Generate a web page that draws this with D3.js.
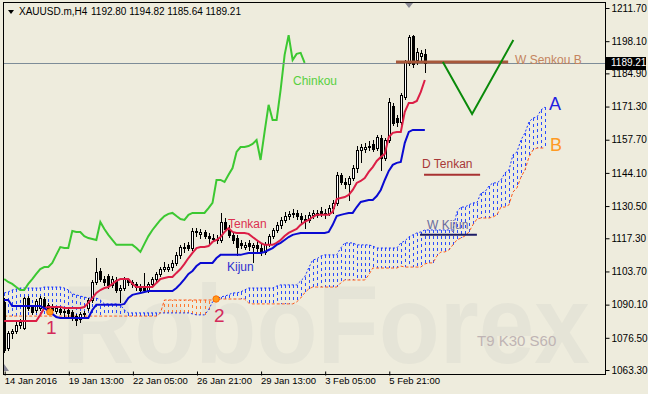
<!DOCTYPE html>
<html><head><meta charset="utf-8">
<script src="https://cdn.jsdelivr.net/npm/d3@7"></script>
<style>html,body{margin:0;padding:0;background:#eeecdd;overflow:hidden}</style>
</head><body><svg id="c" width="648" height="394"></svg>
<script>
// ---- data (H4 bars, index 0 = 14 Jan 2016 21:00) ----
const opens = [
1091.2,1072.3,1078.5,1079.3,1081.8,1080.5,1092.8,1089.1,1087.9,1088.7,
1092.4,1090.0,1089.5,1087.5,1088.3,1087.1,1087.9,1087.1,1085.4,1084.2,
1086.3,1088.7,1092.0,1099.4,1103.9,1100.6,1101.8,1098.2,1100.2,1096.1,
1096.9,1100.6,1099.4,1098.6,1097.3,1096.9,1096.1,1098.6,1100.6,1102.7,
1104.7,1104.7,1105.5,1107.2,1110.5,1113.7,1114.6,1113.3,1120.3,1119.1,
1119.9,1118.2,1117.4,1117.0,1116.6,1124.0,1121.1,1118.7,1117.4,1115.4,
1113.7,1115.4,1113.7,1114.6,1113.3,1111.7,1115.0,1118.2,1120.7,1122.8,
1124.8,1126.4,1127.3,1127.7,1126.4,1125.2,1124.8,1126.9,1126.9,1128.5,
1127.3,1127.7,1129.7,1131.8,1143.3,1140.4,1139.6,1142.0,1146.1,1153.5,
1153.9,1154.7,1156.0,1154.3,1158.4,1150.2,1157.6,1171.5,1166.6,1165.0,
1175.2,1189.2,1200.2,1190.4,1192.0,1192.80];
const highs = [
1092.8,1079.3,1080.1,1083.0,1084.2,1093.2,1093.6,1090.0,1092.4,1093.6,
1093.2,1090.8,1090.4,1089.5,1089.1,1088.3,1088.7,1087.9,1086.3,1087.1,
1087.5,1092.8,1100.2,1109.2,1105.1,1101.8,1102.7,1101.8,1101.4,1098.2,
1101.4,1101.0,1100.2,1099.4,1098.6,1103.1,1099.4,1101.4,1103.5,1105.5,
1107.6,1106.8,1108.4,1111.7,1114.6,1115.4,1115.8,1121.5,1121.5,1121.1,
1120.7,1119.5,1119.1,1118.7,1127.7,1125.6,1122.8,1119.9,1118.7,1116.6,
1115.8,1116.6,1115.4,1116.2,1115.0,1115.8,1119.1,1121.5,1124.0,1126.0,
1128.1,1128.5,1129.3,1128.9,1127.7,1126.9,1128.1,1128.9,1128.9,1130.1,
1129.3,1131.0,1133.0,1144.5,1144.1,1142.0,1142.8,1147.4,1155.1,1156.0,
1156.4,1157.2,1157.6,1159.7,1159.7,1158.4,1174.8,1172.8,1167.9,1176.9,
1190.4,1200.6,1200.6,1195.3,1194.5,1194.82];
const lows = [
1070.7,1071.5,1076.4,1078.5,1080.5,1080.1,1087.9,1086.3,1087.1,1087.9,
1088.7,1087.5,1086.7,1086.7,1086.3,1085.4,1085.4,1083.8,1081.8,1083.0,
1085.4,1087.9,1091.2,1098.6,1099.8,1098.2,1096.9,1097.3,1095.3,1091.2,
1096.1,1098.2,1097.3,1096.1,1094.9,1095.3,1095.3,1097.7,1099.8,1101.8,
1103.9,1103.9,1104.3,1106.4,1109.2,1111.7,1112.5,1112.5,1118.2,1117.4,
1117.4,1115.4,1116.2,1115.4,1115.8,1120.3,1117.8,1115.4,1110.5,1113.3,
1112.9,1112.5,1107.6,1112.1,1110.5,1110.9,1114.1,1117.4,1119.9,1121.5,
1124.0,1125.2,1126.0,1125.2,1123.2,1121.5,1124.0,1125.6,1126.0,1126.4,
1125.6,1126.9,1127.7,1131.0,1139.6,1137.9,1133.0,1141.2,1144.5,1148.6,
1152.7,1153.5,1153.1,1153.5,1145.3,1149.4,1156.8,1163.8,1163.3,1164.2,
1174.4,1188.4,1187.5,1188.8,1189.6,1185.64];
const closes = [
1071.5,1078.5,1079.3,1081.8,1083.0,1092.8,1088.7,1087.1,1091.6,1092.8,
1089.5,1088.3,1087.9,1088.7,1087.1,1087.5,1086.7,1084.6,1083.8,1086.3,
1086.7,1092.0,1099.4,1103.5,1100.6,1099.4,1098.2,1100.6,1096.1,1096.9,
1100.6,1099.4,1098.6,1097.3,1096.1,1096.1,1098.6,1100.6,1102.7,1104.7,
1105.5,1105.5,1107.2,1110.5,1113.7,1113.3,1113.3,1120.3,1119.9,1119.9,
1118.2,1117.4,1117.0,1116.6,1124.0,1121.1,1118.7,1116.6,1113.7,1114.6,
1114.6,1114.1,1114.6,1113.3,1111.7,1115.0,1118.2,1120.7,1122.8,1124.8,
1126.4,1127.3,1127.7,1126.4,1125.2,1124.8,1126.9,1127.7,1127.7,1127.7,
1127.7,1129.7,1131.8,1143.3,1140.4,1139.6,1142.0,1146.1,1153.5,1154.7,
1154.7,1155.1,1153.9,1158.8,1150.2,1157.6,1173.2,1164.6,1165.0,1176.1,
1189.6,1199.8,1188.8,1193.7,1193.3,1189.21];
const tenkan = [
1083.4,1083.4,1083.4,1083.4,1083.4,1083.4,1083.4,1083.4,1083.4,1085.9,
1088.7,1089.1,1089.1,1089.1,1089.1,1088.7,1088.7,1088.7,1088.7,1088.7,
1089.1,1090.8,1092.8,1094.9,1096.1,1096.9,1097.3,1098.6,1099.8,1100.6,
1100.6,1100.6,1098.6,1097.3,1097.3,1097.3,1097.3,1097.3,1099.0,1100.6,
1101.0,1101.4,1101.4,1103.1,1104.7,1106.8,1109.2,1111.3,1113.3,1113.7,
1113.7,1114.1,1115.8,1116.6,1117.8,1119.9,1121.5,1119.9,1119.5,1119.5,
1119.5,1119.1,1117.8,1116.6,1115.4,1114.6,1114.6,1114.6,1115.4,1116.6,
1118.2,1119.5,1120.3,1121.1,1122.8,1124.0,1124.8,1126.0,1126.9,1126.9,
1126.9,1126.9,1128.1,1133.4,1133.8,1134.2,1135.1,1137.1,1140.0,1140.8,
1142.0,1144.5,1146.5,1149.0,1150.6,1151.9,1158.8,1160.5,1160.9,1160.9,
1169.1,1172.8,1172.8,1173.6,1177.3,1182.2];
const kijun = [
1092.0,1092.0,1089.5,1089.5,1089.5,1089.5,1089.5,1089.5,1089.5,1089.5,
1088.7,1087.5,1086.3,1085.0,1084.6,1084.6,1084.6,1084.6,1084.6,1084.6,
1084.6,1084.6,1087.9,1090.0,1090.0,1090.0,1090.0,1090.0,1090.0,1090.0,
1090.4,1092.8,1094.1,1094.5,1094.9,1095.3,1095.7,1095.7,1095.7,1095.7,
1095.7,1095.7,1095.7,1096.9,1098.6,1100.6,1102.7,1103.9,1105.9,1107.2,
1107.2,1107.2,1107.2,1109.2,1110.5,1110.5,1110.5,1110.5,1110.5,1110.5,
1110.9,1111.3,1111.3,1111.3,1111.3,1111.7,1112.5,1113.3,1114.6,1115.4,
1116.6,1117.8,1118.7,1119.1,1119.5,1119.5,1119.5,1119.5,1119.5,1119.5,
1119.5,1119.9,1122.8,1126.4,1126.9,1127.3,1127.7,1127.7,1130.1,1132.2,
1132.6,1133.0,1133.0,1134.6,1137.1,1141.2,1144.9,1147.4,1148.2,1148.6,
1156.4,1160.9,1161.7,1161.7,1161.7,1161.7];
// Senkou spans, already shifted 30 bars forward (index = bar position on chart)
const senkouA = [
1094.9,1095.3,1096.1,1096.5,1096.9,1096.9,1096.9,1096.9,1096.9,1096.9,
1097.3,1097.3,1097.3,1097.3,1097.3,1096.9,1096.1,1094.5,1094.1,1093.6,
1093.2,1092.8,1092.8,1092.8,1092.0,1090.4,1090.4,1090.4,1090.4,1090.0,
1087.9,1086.7,1086.7,1086.7,1086.7,1086.7,1086.7,1086.7,1086.7,1086.7,
1086.7,1086.7,1086.7,1086.7,1086.7,1086.7,1086.7,1086.3,1085.9,1085.9,
1085.9,1087.9,1091.2,1092.4,1093.2,1093.6,1094.1,1094.9,1094.9,1095.3,
1096.1,1096.9,1096.9,1096.9,1096.9,1096.9,1096.9,1096.9,1097.7,1098.2,
1098.2,1098.2,1098.2,1098.2,1099.8,1101.4,1105.1,1108.4,1108.8,1110.0,
1110.5,1110.5,1110.5,1110.5,1113.3,1115.4,1115.4,1115.4,1114.6,1114.6,
1114.6,1114.6,1114.1,1113.3,1113.3,1113.3,1113.3,1113.3,1113.3,1115.4,
1116.2,1117.8,1118.7,1119.5,1119.9,1120.7,1120.7,1120.7,1120.7,1120.7,
1120.7,1120.7,1120.7,1128.1,1130.1,1130.1,1131.0,1131.8,1131.8,1135.9,
1136.3,1138.7,1140.0,1140.0,1141.2,1144.1,1145.3,1151.5,1152.7,1157.6,
1160.5,1165.0,1166.6,1167.0,1169.9,1171.1];
const senkouB = [
1085.4,1085.4,1085.4,1085.4,1085.4,1085.4,1085.4,1085.4,1085.4,1085.4,
1085.4,1085.4,1085.4,1085.4,1085.4,1085.4,1085.4,1085.4,1085.4,1085.4,
1085.4,1085.4,1085.4,1085.4,1085.4,1085.4,1085.4,1085.4,1085.4,1085.4,
1085.4,1085.4,1085.4,1085.4,1085.4,1085.4,1085.4,1085.4,1085.4,1086.7,
1092.0,1092.0,1092.0,1092.0,1092.0,1092.0,1092.0,1092.0,1092.0,1092.0,
1092.0,1092.0,1092.0,1092.0,1092.4,1092.4,1092.4,1092.4,1092.4,1092.4,
1092.4,1090.8,1090.4,1090.4,1090.4,1090.4,1090.4,1090.4,1090.4,1090.4,
1090.4,1090.4,1090.4,1091.2,1092.8,1094.9,1096.5,1097.3,1097.3,1097.3,
1097.3,1097.3,1097.3,1097.3,1099.0,1100.2,1100.2,1100.2,1100.2,1100.2,
1100.2,1102.3,1105.1,1105.1,1105.1,1105.1,1105.1,1105.1,1105.1,1105.9,
1105.5,1105.5,1105.5,1105.5,1105.5,1106.8,1107.2,1107.2,1110.0,1111.7,
1111.7,1112.5,1114.6,1116.6,1117.4,1118.2,1119.9,1122.8,1125.2,1125.6,
1125.6,1125.6,1126.0,1126.9,1130.1,1130.1,1131.0,1136.3,1137.9,1142.4,
1145.3,1150.6,1153.5,1154.3,1154.3,1154.3];
// Chinkou span, already shifted 30 bars back
const chinkou = [
1100.6,1099.4,1098.6,1097.3,1096.1,1096.1,1098.6,1100.6,1102.7,1104.7,
1105.5,1105.5,1107.2,1110.5,1113.7,1113.3,1113.3,1120.3,1119.9,1119.9,
1118.2,1117.4,1117.0,1116.6,1124.0,1121.1,1118.7,1116.6,1114.6,1114.6,
1114.6,1114.6,1114.6,1113.3,1111.7,1115.0,1118.2,1120.7,1122.8,1124.8,
1126.4,1127.3,1127.7,1126.4,1125.2,1124.8,1126.9,1127.7,1127.7,1127.7,
1127.7,1129.7,1131.8,1141.2,1141.2,1140.4,1143.3,1146.1,1152.7,1154.7,
1154.7,1155.1,1156.0,1157.6,1149.4,1160.9,1172.0,1165.8,1165.8,1178.1,
1192.5,1200.6,1190.4,1192.9,1193.3,1189.2];
const priceTicks = [1211.70,1198.10,1184.90,1171.30,1157.70,1144.10,1130.50,1117.30,1103.70,1090.10,1076.50,1063.30];
const dateTickBars = [0,16,32,48,64,80,96];
const dateLabels = ["14 Jan 2016","19 Jan 13:00","22 Jan 05:00","26 Jan 21:00","29 Jan 13:00","3 Feb 05:00","5 Feb 21:00"];
const lastPrice = 1189.21;
// annotations
const signalBars = [11.4, 52.9];
const signalPrices = [1087.1, 1092.4];
const signalNames = ["1","2"];
const levelNames = ["W Senkou B","D Tenkan","W Kijun"];
const levelPrices = [1189.6, 1143.3, 1118.7];
const levelFrom = [97.8, 104.8, 103.8];
const levelTo = [125.8, 118.8, 118.0];
const forecastBars = [109.5, 116.8, 127.1];
const forecastPrices = [1189.6, 1168.3, 1198.6];

// ---- drawing ----
const FONT = "'Liberation Sans', Arial, sans-serif";
const svg = d3.select('#c');
const x = d3.scaleLinear().domain([0,150]).range([4.2, 605.1]);
const y = d3.scaleLinear().domain([1063.3, 1211.7]).range([370, 8]);
const px = v => Math.round(x(v));

svg.append('rect').attr('width',648).attr('height',394).attr('fill','#eeecdd');
svg.append('text').attr('x',62).attr('y',363).attr('font-family',FONT).attr('font-weight','bold')
  .attr('font-size',112).attr('textLength',528).attr('lengthAdjust','spacingAndGlyphs')
  .attr('fill','#e5e4d7').text('RoboForex');

svg.append('defs').append('clipPath').attr('id','plot').append('rect')
  .attr('x',3).attr('y',3).attr('width',602).attr('height',371);
const g = svg.append('g').attr('clip-path','url(#plot)');

// cloud hatch
const cloudIdx = d3.range(senkouA.length);
g.append('g').attr('shape-rendering','crispEdges').selectAll('line').data(cloudIdx).join('line')
  .attr('x1', i => px(i)+0.5).attr('x2', i => px(i)+0.5)
  .attr('y1', i => Math.round(y(senkouA[i]))).attr('y2', i => Math.round(y(senkouB[i])))
  .attr('stroke', i => senkouA[i] >= senkouB[i] ? '#2a4cff' : '#ff7a30')
  .attr('stroke-width',1).attr('stroke-dasharray','3,3');

const lineGen = d3.line().x((d,i) => x(i)).y(d => y(d));
g.append('path').attr('d', lineGen(senkouA)).attr('fill','none')
  .attr('stroke','#1430ff').attr('stroke-width',1).attr('stroke-dasharray','2,2');
g.append('path').attr('d', lineGen(senkouB)).attr('fill','none')
  .attr('stroke','#ff5a1a').attr('stroke-width',1).attr('stroke-dasharray','3,2');

// chinkou
g.append('path').attr('d', lineGen(chinkou)).attr('fill','none')
  .attr('stroke','#3cc832').attr('stroke-width',2);

// last price line
g.append('line').attr('x1',3).attr('x2',605)
  .attr('y1', Math.round(y(lastPrice))+0.5).attr('y2', Math.round(y(lastPrice))+0.5)
  .attr('stroke','#7d8c98').attr('stroke-width',1);

// candles
const bars = d3.range(closes.length);
const cg = g.append('g').attr('shape-rendering','crispEdges');
cg.selectAll('line').data(bars).join('line')
  .attr('x1', i => px(i)+0.5).attr('x2', i => px(i)+0.5)
  .attr('y1', i => Math.round(y(highs[i]))).attr('y2', i => Math.round(y(lows[i]))+1)
  .attr('stroke','#000').attr('stroke-width',1);
cg.selectAll('rect').data(bars).join('rect')
  .attr('x', i => px(i)-0.5).attr('width',2)
  .attr('y', i => Math.round(y(Math.max(opens[i],closes[i])))+0.5)
  .attr('height', i => Math.max(0, Math.round(y(Math.min(opens[i],closes[i]))) - Math.round(y(Math.max(opens[i],closes[i])))))
  .attr('fill', i => closes[i] >= opens[i] ? '#ffffff' : '#000000')
  .attr('stroke','#000').attr('stroke-width',1);

// tenkan & kijun
g.append('path').attr('d', lineGen(tenkan)).attr('fill','none')
  .attr('stroke','#dc1e46').attr('stroke-width',2);
g.append('path').attr('d', lineGen(kijun)).attr('fill','none')
  .attr('stroke','#0a0ad2').attr('stroke-width',2);

// level lines
const levelColors = ['#a8583a','#a83232','#1c1c66'];
const levelWidths = [3,2,2];
g.selectAll('line.lvl').data(levelNames).join('line').attr('class','lvl')
  .attr('x1', (d,i) => x(levelFrom[i])).attr('x2', (d,i) => x(levelTo[i]))
  .attr('y1', (d,i) => y(levelPrices[i])).attr('y2', (d,i) => y(levelPrices[i]))
  .attr('stroke', (d,i) => levelColors[i]).attr('stroke-width', (d,i) => levelWidths[i]);

// forecast V
g.append('path').attr('d', d3.line().x(d => x(d)).y((d,i) => y(forecastPrices[i]))(forecastBars))
  .attr('fill','none').attr('stroke','#0a8a0a').attr('stroke-width',2);

// signal dots
g.selectAll('circle.sig').data(signalBars).join('circle').attr('class','sig')
  .attr('cx', d => x(d)).attr('cy', (d,i) => y(signalPrices[i])).attr('r',3.2)
  .attr('fill','#ff9a1a').attr('stroke','#ff6a00').attr('stroke-width',1);

// text labels
const T = (t, xx, yy, size, color) => g.append('text').attr('x',xx).attr('y',yy)
  .attr('font-family',FONT).attr('font-size',size).attr('fill',color).text(t);
T('Chinkou', 293, 85, 12, '#58d040');
T('Tenkan', 228, 228, 12, '#dc3050');
T('Kijun', 227, 271, 12, '#3030d0');
T(levelNames[1], 422, 168, 12, '#a83838');
T(levelNames[2], 427, 229, 12, '#6a6a9c');
T(levelNames[0], 515, 64, 12, '#c4845e');
T('A', 549, 110, 18, '#2222e0');
T('B', 550, 151, 18, '#ff9a22');
T(signalNames[0], 46, 334, 19, '#d42a5a');
T(signalNames[1], 214, 322, 19, '#d42a5a');
T('T9 K30 S60', 477, 346, 15, '#bfb4b4');

// small markers
svg.append('path').attr('d','M405,3 L413,3 L409,8 Z').attr('fill','#8a8a96');
svg.append('path').attr('d','M4,364 L4,371 L9,371 Z').attr('fill','#8a8a9a');

// frame
svg.append('rect').attr('x',3.5).attr('y',2.5).attr('width',602).attr('height',372)
  .attr('fill','none').attr('stroke','#000').attr('stroke-width',1);

// price axis
const ya = svg.append('g').attr('transform','translate(605.5,0)')
  .call(d3.axisRight(y).tickValues(priceTicks).tickSize(4).tickPadding(2).tickFormat(d3.format('.2f')));
ya.select('.domain').remove();
ya.selectAll('line').attr('stroke','#000');
ya.selectAll('text').attr('font-family',FONT).attr('font-size',10).attr('fill','#000');

// last price box
svg.append('rect').attr('x',606).attr('y',Math.round(y(lastPrice))-6).attr('width',40).attr('height',13).attr('fill','#000');
svg.append('text').attr('x',611).attr('y',y(lastPrice)).attr('dy','0.34em').attr('font-family',FONT)
  .attr('font-size',10).attr('fill','#fff').text(d3.format('.2f')(lastPrice));

// date axis
const xa = svg.append('g').attr('transform','translate(0,374.5)')
  .call(d3.axisBottom(x).tickValues(dateTickBars).tickSize(4).tickFormat((d,i) => dateLabels[i]));
xa.select('.domain').remove();
xa.selectAll('line').attr('stroke','#000').attr('transform','translate(0.5,-3)');
xa.selectAll('text').attr('font-family',FONT).attr('font-size',9.5).attr('fill','#000')
  .attr('text-anchor','start').attr('x',0).attr('y',3).attr('dy','0.71em');

// header
svg.append('path').attr('d','M8,10 L14,10 L11,14 Z').attr('fill','#000');
svg.append('text').attr('x',19).attr('y',15).attr('font-family',FONT).attr('font-size',10).attr('fill','#000').text('XAUUSD.m,H4');
svg.append('text').attr('x',91).attr('y',15).attr('font-family',FONT).attr('font-size',10).attr('fill','#000')
  .text([opens[105],highs[105],lows[105],closes[105]].map(d3.format('.2f')).join(' '));
</script>
</body></html>
